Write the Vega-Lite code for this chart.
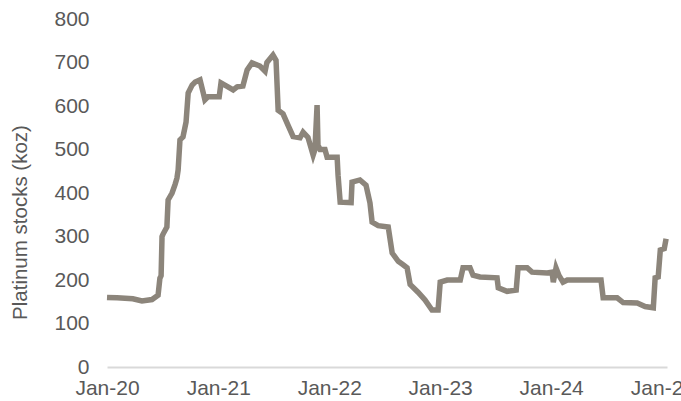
{
  "$schema": "https://vega.github.io/schema/vega-lite/v6.json",
  "width": 560,
  "height": 348,
  "autosize": {"type": "none"},
  "padding": {"left": 107, "top": 19, "right": 14, "bottom": 34},
  "background": "white",
  "config": {"view": {"stroke": null}, "font": "Liberation Sans"},
  "data": {"values": [
    {"date": "2020-01-01", "v": 160},
    {"date": "2020-02-03", "v": 159},
    {"date": "2020-03-26", "v": 157},
    {"date": "2020-04-25", "v": 152},
    {"date": "2020-05-28", "v": 155},
    {"date": "2020-06-17", "v": 165},
    {"date": "2020-06-23", "v": 204},
    {"date": "2020-06-27", "v": 210},
    {"date": "2020-06-30", "v": 300},
    {"date": "2020-07-03", "v": 305},
    {"date": "2020-07-16", "v": 322},
    {"date": "2020-07-20", "v": 384},
    {"date": "2020-08-02", "v": 400},
    {"date": "2020-08-12", "v": 420},
    {"date": "2020-08-18", "v": 434},
    {"date": "2020-08-22", "v": 453},
    {"date": "2020-08-28", "v": 522},
    {"date": "2020-09-07", "v": 529},
    {"date": "2020-09-17", "v": 563},
    {"date": "2020-09-24", "v": 630},
    {"date": "2020-10-07", "v": 648},
    {"date": "2020-10-17", "v": 655},
    {"date": "2020-11-02", "v": 660},
    {"date": "2020-11-12", "v": 632},
    {"date": "2020-11-18", "v": 614},
    {"date": "2020-11-28", "v": 621},
    {"date": "2021-01-04", "v": 621},
    {"date": "2021-01-10", "v": 653},
    {"date": "2021-01-30", "v": 645},
    {"date": "2021-02-19", "v": 637},
    {"date": "2021-03-04", "v": 644},
    {"date": "2021-03-23", "v": 646},
    {"date": "2021-04-06", "v": 683},
    {"date": "2021-04-22", "v": 699},
    {"date": "2021-05-18", "v": 692},
    {"date": "2021-06-04", "v": 680},
    {"date": "2021-06-10", "v": 700},
    {"date": "2021-06-30", "v": 717},
    {"date": "2021-07-10", "v": 705},
    {"date": "2021-07-17", "v": 590},
    {"date": "2021-08-02", "v": 582},
    {"date": "2021-08-19", "v": 555},
    {"date": "2021-09-04", "v": 530},
    {"date": "2021-09-27", "v": 527},
    {"date": "2021-10-07", "v": 540},
    {"date": "2021-10-23", "v": 528},
    {"date": "2021-11-09", "v": 487},
    {"date": "2021-11-15", "v": 500},
    {"date": "2021-11-22", "v": 602},
    {"date": "2021-11-25", "v": 510},
    {"date": "2021-12-02", "v": 500},
    {"date": "2021-12-18", "v": 500},
    {"date": "2021-12-25", "v": 482},
    {"date": "2022-01-27", "v": 482},
    {"date": "2022-01-30", "v": 441},
    {"date": "2022-02-06", "v": 379},
    {"date": "2022-03-14", "v": 378},
    {"date": "2022-03-17", "v": 425},
    {"date": "2022-04-12", "v": 430},
    {"date": "2022-05-02", "v": 418},
    {"date": "2022-05-15", "v": 377},
    {"date": "2022-05-22", "v": 333},
    {"date": "2022-06-11", "v": 325},
    {"date": "2022-07-14", "v": 322},
    {"date": "2022-07-27", "v": 262},
    {"date": "2022-08-16", "v": 243},
    {"date": "2022-09-01", "v": 235},
    {"date": "2022-09-14", "v": 228},
    {"date": "2022-09-24", "v": 190},
    {"date": "2022-10-20", "v": 172},
    {"date": "2022-11-12", "v": 154},
    {"date": "2022-12-05", "v": 131},
    {"date": "2022-12-25", "v": 131},
    {"date": "2023-01-01", "v": 195},
    {"date": "2023-01-24", "v": 200},
    {"date": "2023-03-08", "v": 200},
    {"date": "2023-03-17", "v": 228},
    {"date": "2023-04-09", "v": 228},
    {"date": "2023-04-19", "v": 211},
    {"date": "2023-05-12", "v": 207},
    {"date": "2023-07-07", "v": 205},
    {"date": "2023-07-11", "v": 182},
    {"date": "2023-08-09", "v": 174},
    {"date": "2023-09-08", "v": 177},
    {"date": "2023-09-14", "v": 228},
    {"date": "2023-10-14", "v": 228},
    {"date": "2023-10-30", "v": 218},
    {"date": "2023-12-19", "v": 216},
    {"date": "2024-01-04", "v": 218},
    {"date": "2024-01-08", "v": 195},
    {"date": "2024-01-17", "v": 228},
    {"date": "2024-01-27", "v": 210},
    {"date": "2024-02-09", "v": 195},
    {"date": "2024-02-23", "v": 200},
    {"date": "2024-06-13", "v": 200},
    {"date": "2024-06-20", "v": 159},
    {"date": "2024-08-05", "v": 159},
    {"date": "2024-08-25", "v": 148},
    {"date": "2024-10-10", "v": 147},
    {"date": "2024-11-05", "v": 139},
    {"date": "2024-12-02", "v": 136},
    {"date": "2024-12-08", "v": 205},
    {"date": "2024-12-18", "v": 207},
    {"date": "2024-12-25", "v": 269},
    {"date": "2025-01-07", "v": 272},
    {"date": "2025-01-13", "v": 295}
  ]},
  "mark": {"type": "line", "color": "#8C857B", "strokeWidth": 5.5},
  "encoding": {
    "x": {
      "field": "date",
      "type": "temporal",
      "scale": {"domain": ["2020-01-01", "2025-01-16"]},
      "axis": {
        "title": null,
        "format": "%b-%y",
        "tickCount": {"interval": "year", "step": 1},
        "ticks": false,
        "grid": false,
        "domainColor": "#D9D9D9",
        "domainWidth": 2,
        "labelColor": "#595959",
        "labelFontSize": 21,
        "labelPadding": 10,
        "labelFlush": false,
        "labelOverlap": false
      }
    },
    "y": {
      "field": "v",
      "type": "quantitative",
      "scale": {"domain": [0, 800]},
      "axis": {
        "title": "Platinum stocks (koz)",
        "titleColor": "#595959",
        "titleFontSize": 20.5,
        "titleFontWeight": "normal",
        "titleX": -87,
        "titleY": 203,
        "titleBaseline": "middle",
        "titleAngle": -90,
        "values": [0, 100, 200, 300, 400, 500, 600, 700, 800],
        "domain": false,
        "ticks": false,
        "grid": false,
        "labelColor": "#595959",
        "labelFontSize": 21,
        "labelPadding": 18
      }
    }
  }
}
